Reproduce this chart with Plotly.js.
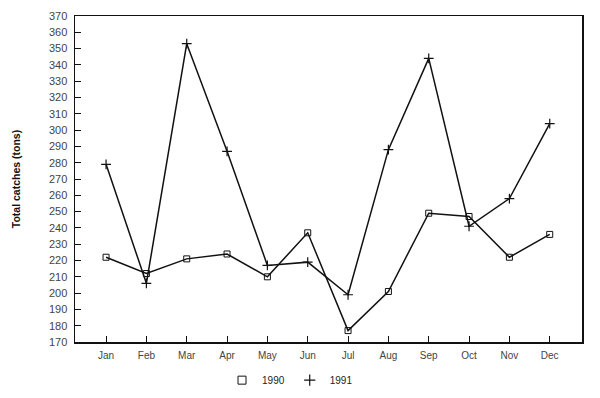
<!DOCTYPE html>
<html>
<head>
<meta charset="utf-8">
<script src="https://cdn.plot.ly/plotly-3.0.1.min.js"></script>
<style>html,body{margin:0;padding:0;background:#fff;}#chart{width:600px;height:398px;}</style>
</head>
<body>
<div id="chart"></div>
<script>
const months = ["Jan","Feb","Mar","Apr","May","Jun","Jul","Aug","Sep","Oct","Nov","Dec"];
const catches1990 = [222, 212, 221, 224, 210, 237, 177, 201, 249, 247, 222, 236];
const catches1991 = [279, 206, 353, 287, 217, 219, 199, 288, 344, 241, 258, 304];
const yTicks = [170,180,190,200,210,220,230,240,250,260,270,280,290,300,310,320,330,340,350,360,370];

const idx = months.map((m, i) => i);
const lineStyle = {color: "#111", width: 1.5};

const traces = [
  {x: idx, y: catches1990, mode: "lines+markers", line: lineStyle,
   marker: {symbol: "square-open", size: 6, color: "#111", line: {width: 1}}, showlegend: false, hoverinfo: "y"},
  {x: idx, y: catches1991, mode: "lines+markers", line: lineStyle,
   marker: {symbol: "cross-thin-open", size: 7, color: "#111", line: {width: 1.2, color: "#111"}}, showlegend: false, hoverinfo: "y"},
  {x: [null], y: [null], name: "1990", mode: "markers",
   marker: {symbol: "square-open", size: 8, color: "#111", line: {width: 1}}},
  {x: [null], y: [null], name: "1991", mode: "markers",
   marker: {symbol: "cross-thin-open", size: 8, color: "#111", line: {width: 1.2, color: "#111"}}}
];

const layout = {
  width: 600, height: 398,
  margin: {l: 75, r: 18, t: 16, b: 56, autoexpand: false},
  paper_bgcolor: "#fff", plot_bgcolor: "#fff",
  font: {family: "Liberation Sans, Arial, sans-serif", color: "#333", size: 10},
  xaxis: {
    range: [-0.77, 11.8], tickvals: idx, ticktext: months,
    ticks: "inside", ticklen: 6, tickcolor: "#111",
    showline: true, linecolor: "#111", linewidth: 1.5, mirror: true,
    showgrid: false, zeroline: false, fixedrange: true,
    tickfont: {size: 10, color: "#444"}, ticklabelstandoff: 3
  },
  yaxis: {
    range: [170, 370], tickvals: yTicks, ticktext: yTicks.map(String),
    ticks: "inside", ticklen: 6, tickcolor: "#111",
    showline: true, linecolor: "#111", linewidth: 1.5, mirror: true,
    showgrid: false, zeroline: false, fixedrange: true,
    tickfont: {size: 11, color: "#444"}, ticklabelstandoff: 4,
    title: {text: "<b>Total catches (tons)</b>", font: {size: 10.5, color: "#111"}, standoff: 26}
  },
  showlegend: true,
  legend: {orientation: "h", x: 0.29, xanchor: "left", y: -0.117, yanchor: "middle",
    font: {size: 10, color: "#222"}, itemwidth: 30, traceorder: "normal"}
};

Plotly.newPlot("chart", traces, layout, {displayModeBar: false, staticPlot: true});
</script>
</body>
</html>
